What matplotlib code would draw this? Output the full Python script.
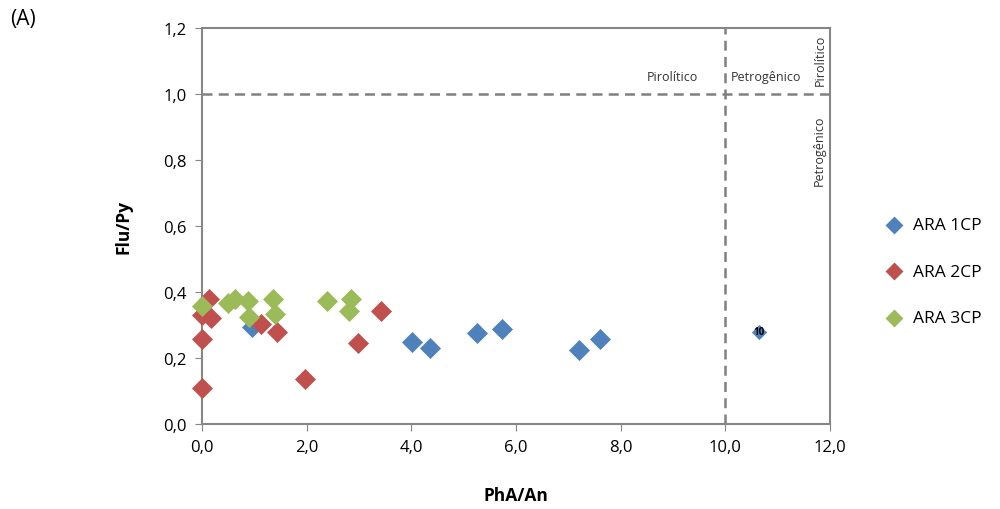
import matplotlib
matplotlib.use("Agg")
import matplotlib.pyplot as plt

plt.rcParams['font.family'] = ['Open Sans', 'DejaVu Sans']

# series values
ara1_x = [0.95, 4.02, 4.36, 5.25, 5.73, 7.20, 7.61]
ara1_y = [0.295, 0.248, 0.230, 0.277, 0.287, 0.225, 0.258]
ara1_lbl_x = [10.64]
ara1_lbl_y = [0.28]
ara1_lbl = ["10"]

ara2_x = [0.14, 0.0, 0.17, 0.0, 0.0, 1.12, 1.43, 1.97, 2.99, 3.42]
ara2_y = [0.380, 0.330, 0.322, 0.257, 0.108, 0.303, 0.280, 0.135, 0.247, 0.343]

ara3_x = [0.0, 0.50, 0.63, 0.87, 0.90, 1.36, 1.40, 2.38, 2.85, 2.80]
ara3_y = [0.357, 0.367, 0.380, 0.372, 0.323, 0.380, 0.332, 0.372, 0.380, 0.342]

x_ticks = [0, 2, 4, 6, 8, 10, 12]
y_ticks = [0, 0.2, 0.4, 0.6, 0.8, 1.0, 1.2]


def fmt(v):
    return f"{v:.1f}".replace(".", ",")


def main():
    fig = plt.figure(figsize=(10, 5.1), dpi=100)
    ax = fig.add_axes([0.202, 0.1667, 0.628, 0.776])

    blue, red, green = "#4F81BD", "#C0504D", "#9BBB59"
    ax.scatter(ara1_x, ara1_y, marker="D", s=115, color=blue, label="ARA 1CP", zorder=3, linewidths=0, clip_on=False)
    ax.scatter(ara2_x, ara2_y, marker="D", s=115, color=red, label="ARA 2CP", zorder=3, linewidths=0, clip_on=False)
    ax.scatter(ara3_x, ara3_y, marker="D", s=115, color=green, label="ARA 3CP", zorder=3, linewidths=0, clip_on=False)
    ax.scatter(ara1_lbl_x, ara1_lbl_y, marker="D", s=60, color=blue, zorder=3, linewidths=0)
    for x, y, t in zip(ara1_lbl_x, ara1_lbl_y, ara1_lbl):
        ax.text(x, y, t, fontsize=7, fontweight="bold", ha="center", va="center", zorder=4)

    ax.axhline(1.0, color="#808080", ls=(0, (4, 2.5)), lw=1.8, zorder=2)
    ax.axvline(10.0, color="#808080", ls=(0, (4, 2.5)), lw=1.8, zorder=2)

    ax.text(9.48, 1.035, "Pirolítico", fontsize=9, ha="right", va="bottom", color="#333333")
    ax.text(10.1, 1.035, "Petrogênico", fontsize=9, ha="left", va="bottom", color="#333333")
    ax.text(11.82, 1.105, "Pirolítico", fontsize=9, rotation=90, ha="center", va="center", color="#333333")
    ax.text(11.8, 0.83, "Petrogênico", fontsize=9, rotation=90, ha="center", va="center", color="#333333")

    ax.set_xlim(0, 12)
    ax.set_ylim(0, 1.2)
    ax.set_xticks(x_ticks)
    ax.set_xticklabels([fmt(v) for v in x_ticks], fontsize=12)
    ax.set_yticks(y_ticks)
    ax.set_yticklabels([fmt(v) for v in y_ticks], fontsize=12)
    ax.tick_params(direction="out", length=5, color="#868686", pad=6)
    for s in ax.spines.values():
        s.set_color("#868686")
        s.set_linewidth(1.5)
    ax.set_xlabel("PhA/An", fontsize=12.5, fontweight="bold", labelpad=22)
    ax.set_ylabel("Flu/Py", fontsize=12.5, fontweight="bold", labelpad=22)

    ax.legend(loc="center left", bbox_to_anchor=(1.05, 0.385), frameon=False,
              fontsize=12.5, handletextpad=0.1, labelspacing=1.75, markerscale=0.85)

    fig.text(0.01, 0.962, "(A)", fontsize=15, va="center")

    fig.savefig("out.png")


if __name__ == "__main__":
    main()
